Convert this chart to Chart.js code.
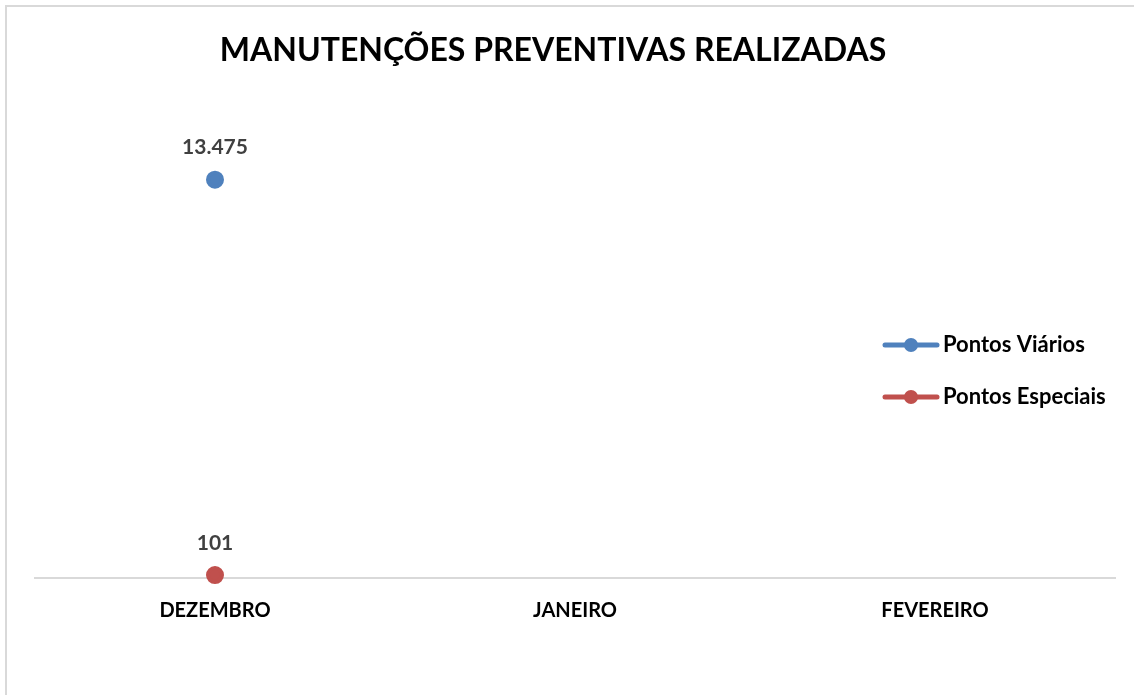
<!DOCTYPE html>
<html>
<head>
<meta charset="utf-8">
<script src="https://cdn.jsdelivr.net/npm/chart.js@4/dist/chart.umd.min.js"></script>
<style>
  html, body { margin: 0; padding: 0; background: #fff; overflow: hidden; }
  #frame { position: absolute; left: 5px; top: 5px; width: 1200px; height: 800px; border: 2px solid #d9d9d9; box-sizing: border-box; }
  #wrap { position: absolute; left: 0; top: 0; width: 1134px; height: 695px; }
</style>
</head>
<body>
<div id="frame"></div>
<div id="wrap"><canvas id="chart" width="1134" height="695"></canvas></div>
<script>
// Chart data
const months = ['DEZEMBRO', 'JANEIRO', 'FEVEREIRO'];
const pontosViarios = [13475, null, null];
const pontosEspeciais = [101, null, null];
const chartTitle = 'MANUTENÇÕES PREVENTIVAS REALIZADAS';

const FONT = 'Lato, "Open Sans", sans-serif';
const BLUE = '#4f81bd';
const RED = '#c0504d';

// 13475 -> "13.475"
function fmt(v) {
  return String(v).replace(/\B(?=(\d{3})+(?!\d))/g, '.');
}

// Title, value labels and legend drawn on top
const extras = {
  id: 'extras',
  afterDatasetsDraw(chart) {
    const c = chart.ctx;
    c.save();

    c.fillStyle = '#000';
    c.font = 'bold 32px ' + FONT;
    c.textAlign = 'center';
    c.textBaseline = 'middle';
    c.fillText(chartTitle, 553, 51);

    // value labels above points
    c.fillStyle = '#404040';
    c.font = 'bold 21px ' + FONT;
    chart.data.datasets.forEach((ds, i) => {
      chart.getDatasetMeta(i).data.forEach((pt, j) => {
        if (ds.data[j] == null) return;
        c.fillText(fmt(ds.data[j]), pt.x, pt.y - 32);
      });
    });

    // legend
    const rows = [345, 397];
    chart.data.datasets.forEach((ds, i) => {
      const y = rows[i];
      c.strokeStyle = ds.borderColor;
      c.lineWidth = 5;
      c.lineCap = 'round';
      c.beginPath();
      c.moveTo(885, y);
      c.lineTo(937, y);
      c.stroke();
      c.fillStyle = ds.pointBackgroundColor;
      c.beginPath();
      c.arc(911, y, 7, 0, Math.PI * 2);
      c.fill();
      c.fillStyle = '#000';
      c.font = 'bold 22px ' + FONT;
      c.textAlign = 'left';
      c.fillText(ds.label, 943, y);
      c.textAlign = 'center';
    });

    c.restore();
  }
};

const ctx = document.getElementById('chart').getContext('2d');

const chart = new Chart(ctx, {
  type: 'line',
  data: {
    labels: months,
    datasets: [
      {
        label: 'Pontos Viários',
        data: pontosViarios,
        borderColor: BLUE,
        backgroundColor: BLUE,
        pointBackgroundColor: BLUE,
        pointBorderColor: BLUE,
        borderWidth: 4,
        pointRadius: 7,
        fill: false,
        clip: false,
      },
      {
        label: 'Pontos Especiais',
        data: pontosEspeciais,
        borderColor: RED,
        backgroundColor: RED,
        pointBackgroundColor: RED,
        pointBorderColor: RED,
        borderWidth: 4,
        pointRadius: 7,
        fill: false,
        clip: false,
      }
    ]
  },
  options: {
    responsive: false,
    animation: false,
    layout: {
      padding: { left: 35, right: 19, top: 105, bottom: 77 }
    },
    scales: {
      x: {
        offset: true,
        grid: { display: false, drawTicks: false },
        border: { display: true, color: '#d9d9d9', width: 2 },
        ticks: {
          color: '#000',
          padding: 21,
          maxRotation: 0,
          font: { family: FONT, size: 20, weight: 'bold' }
        },
        afterFit(scale) { scale.height = 40; }
      },
      y: {
        display: false,
        min: 0,
        max: 16000
      }
    },
    plugins: {
      legend: { display: false },
      tooltip: { enabled: false }
    }
  },
  plugins: [extras]
});
</script>
</body>
</html>
